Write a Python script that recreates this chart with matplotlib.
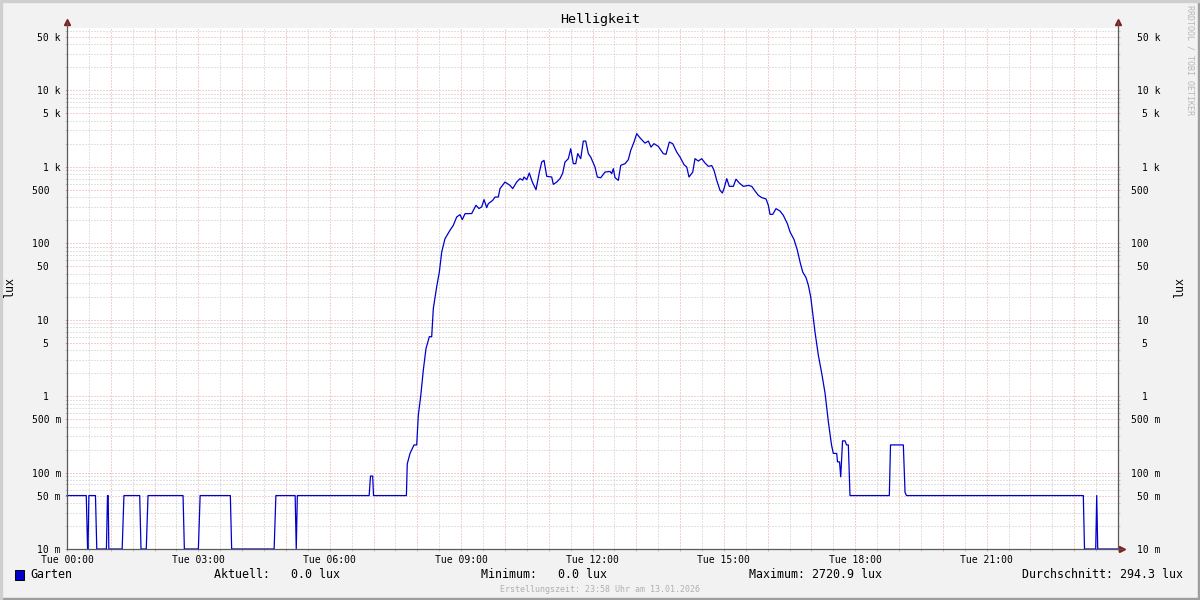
"""Helligkeit (Garten) - rrdtool style day graph, log scale."""

import numpy as np
import matplotlib.pyplot as plt
from matplotlib.lines import Line2D
from matplotlib.patches import Rectangle
from matplotlib.ticker import FixedLocator, FixedFormatter, MultipleLocator, NullFormatter

plt.rcParams['font.family'] = ['DejaVu Sans Mono', 'DejaVu Sans']
plt.rcParams['lines.scale_dashes'] = False

# ── data: hour of day (Tue) / brightness in lux ─────────────────────────────
hours = [0.00, 0.44, 0.47, 0.48, 0.50, 0.65, 0.68, 0.90, 0.925, 0.94, 0.955,
         1.26, 1.30, 1.66, 1.69, 1.81, 1.85, 2.65, 2.68, 3.00, 3.04, 3.73,
         3.76, 4.73, 4.77, 5.21, 5.235, 5.26, 6.90, 6.93, 6.98, 7.00, 7.75,
         7.77, 7.833, 7.924, 7.986, 8.022, 8.077, 8.137, 8.198, 8.274, 8.328,
         8.365, 8.442, 8.502, 8.557, 8.632, 8.746, 8.822, 8.899, 8.975, 9.027,
         9.089, 9.242, 9.279, 9.340, 9.409, 9.470, 9.523, 9.584, 9.621, 9.721,
         9.774, 9.849, 9.888, 10.002, 10.116, 10.178, 10.269, 10.345, 10.407,
         10.436, 10.498, 10.557, 10.626, 10.710, 10.786, 10.840, 10.893,
         10.955, 11.069, 11.105, 11.183, 11.258, 11.320, 11.372, 11.448,
         11.503, 11.562, 11.617, 11.663, 11.731, 11.790, 11.845, 11.905,
         11.959, 12.057, 12.110, 12.188, 12.286, 12.400, 12.439, 12.476,
         12.514, 12.590, 12.645, 12.743, 12.818, 12.873, 12.948, 13.010,
         13.069, 13.124, 13.199, 13.275, 13.336, 13.405, 13.503, 13.617,
         13.679, 13.754, 13.832, 13.923, 13.999, 14.090, 14.152, 14.204,
         14.289, 14.341, 14.417, 14.494, 14.570, 14.645, 14.723, 14.775,
         14.837, 14.912, 14.965, 15.003, 15.065, 15.124, 15.216, 15.277,
         15.353, 15.444, 15.558, 15.636, 15.711, 15.787, 15.864, 15.963,
         16.015, 16.054, 16.116, 16.191, 16.282, 16.358, 16.449, 16.511,
         16.602, 16.678, 16.739, 16.801, 16.876, 16.929, 16.983, 17.029,
         17.081, 17.157, 17.235, 17.310, 17.386, 17.458, 17.499, 17.577,
         17.595, 17.641, 17.668, 17.710, 17.767, 17.801, 17.842, 17.880,
         18.778, 18.805, 19.098, 19.137, 19.171, 23.208, 23.235, 23.491,
         23.514, 23.537, 24.00]
lux = [0.05, 0.05, 0, 0, 0.05, 0.05, 0, 0, 0.05, 0.05, 0,
       0, 0.05, 0.05, 0, 0, 0.05, 0.05, 0, 0, 0.05, 0.05,
       0, 0, 0.05, 0.05, 0, 0.05, 0.05, 0.09, 0.09, 0.05, 0.05,
       0.13, 0.178, 0.23, 0.23, 0.56, 1.0, 2.2, 4.2, 6.0, 6.0,
       14, 27, 42, 77, 115, 148, 172, 221, 237, 204,
       244, 245, 270, 314, 285, 300, 373, 293, 330, 365,
       403, 403, 519, 633, 573, 519, 633, 701, 670,
       736, 680, 830, 633, 503, 850, 1156, 1217,
       752, 736, 590, 633, 701, 830, 1156, 1280,
       1729, 1101, 1101, 1489, 1280, 2174, 2174, 1489,
       1344, 995, 736, 720, 855, 870, 815, 947,
       722, 666, 1047, 1101, 1242, 1643, 2110, 2720.9,
       2460, 2268, 2046, 2174, 1815, 2011, 1853, 1489,
       1460, 2110, 2011, 1562, 1344, 1069, 995, 736,
       855, 1280, 1191, 1280, 1122, 1016, 1040, 900,
       666, 493, 455, 519, 701, 556, 556, 690,
       614, 556, 572, 556, 483, 424, 396, 380,
       314, 239, 239, 284, 264, 232, 181, 141,
       112, 81, 57, 42, 35.6, 28.2, 19.9, 12.1,
       6.9, 3.43, 1.98, 1.1, 0.46, 0.23, 0.178, 0.178,
       0.138, 0.138, 0.088, 0.26, 0.26, 0.23, 0.23, 0.05,
       0.05, 0.23, 0.23, 0.055, 0.05, 0.05, 0, 0,
       0.05, 0, 0]
average_lux = 294.3  # as printed by rrdtool

y_ticks = [0.01, 0.05, 0.1, 0.5, 1, 5, 10, 50, 100, 500, 1e3, 5e3, 1e4, 5e4]
y_labels = ['10 m', '50 m', '100 m', '500 m', '1  ', '5  ', '10  ', '50  ',
            '100  ', '500  ', '1 k', '5 k', '10 k', '50 k']
x_labels = ['Tue 00:00', '', '', 'Tue 03:00', '', '', 'Tue 06:00', '', '',
            'Tue 09:00', '', '', 'Tue 12:00', '', '', 'Tue 15:00', '', '',
            'Tue 18:00', '', '', 'Tue 21:00', '', '', '']

# ── colours (rrdtool look) ──────────────────────────────────────────────────
BACK = '#f2f2f2'
GRID = '#c4c4c4'
MGRID = '#e6a3a3'
ARROW = '#801f1f'
AXIS = '#5a5a5a'
LINE = '#0000cc'
YMIN, YMAX = 0.01, 65600
DOTS = (0, (0.72, 1.44))  # 1 px on, 2 px off

W, H = 1200, 600
fig = plt.figure(figsize=(12, 6), dpi=100, facecolor=BACK)
L, R, T, B = 67, 1118, 28, 549
ax = fig.add_axes([L / W, 1 - B / H, (R - L) / W, (B - T) / H])
ax.set_facecolor('white')

y = np.clip(np.array(lux, dtype=float), YMIN, None)
ax.plot(hours, y, color=LINE, lw=0.9, zorder=5, clip_on=False)

ax.set_yscale('log')
ax.set_ylim(YMIN, YMAX)
ax.set_xlim(0, 24)

minor_y = [m * 10.0 ** e for e in range(-2, 5) for m in (2, 3, 4, 6, 7, 8, 9)]
ax.yaxis.set_major_locator(FixedLocator(y_ticks))
ax.yaxis.set_major_formatter(FixedFormatter(y_labels))
ax.yaxis.set_minor_locator(FixedLocator(minor_y))
ax.yaxis.set_minor_formatter(NullFormatter())
ax.xaxis.set_major_locator(FixedLocator(list(range(25))))
ax.xaxis.set_major_formatter(FixedFormatter(x_labels))
ax.xaxis.set_minor_locator(MultipleLocator(0.5))

ax.grid(True, which='minor', color=GRID, lw=0.72, linestyle=DOTS, zorder=1)
ax.grid(True, which='major', color=MGRID, lw=0.72, linestyle=DOTS, zorder=2)
ax.set_axisbelow(True)

ax.tick_params(which='major', length=1.5, width=0.7, color=MGRID,
               labelsize=7, pad=2.9, direction='out')
ax.tick_params(which='minor', length=1.5, width=0.7, color=GRID, direction='out')
for s in ax.spines.values():
    s.set_visible(False)

# right axis duplicate
ax2 = ax.twinx()
ax2.set_yscale('log')
ax2.set_ylim(YMIN, YMAX)
ax2.yaxis.set_major_locator(FixedLocator(y_ticks))
ax2.yaxis.set_major_formatter(FixedFormatter(y_labels))
ax2.yaxis.set_minor_locator(FixedLocator(minor_y))
ax2.yaxis.set_minor_formatter(NullFormatter())
ax2.tick_params(which='major', length=1.5, width=0.7, color=MGRID,
                labelsize=7, pad=28.8)
ax2.tick_params(which='minor', length=1.5, width=0.7, color=GRID)
for lab in ax2.get_yticklabels():
    lab.set_ha('right')
for s in ax2.spines.values():
    s.set_visible(False)


# axis lines with arrows
def fx(px):
    return px / W


def fy(py):
    return 1 - py / H


for xs, ys in [((L, L), (B, 22)), ((R, R), (B, 22)), ((L, 1122), (B, B))]:
    fig.add_artist(Line2D([fx(v) for v in xs], [fy(v) for v in ys],
                          color=AXIS, lw=0.9, transform=fig.transFigure, zorder=4))
for px, py, m in [(L, 22, '^'), (R, 22, '^'), (1122, B, '>')]:
    fig.add_artist(Line2D([fx(px)], [fy(py)], marker=m, markersize=4.5,
                          color=ARROW, lw=0, transform=fig.transFigure))

# frame shading
fig.add_artist(Rectangle((0, 0), 1, 2 / H, color='#9e9e9e', transform=fig.transFigure))
fig.add_artist(Rectangle((1 - 2 / W, 0), 2 / W, 1, color='#9e9e9e', transform=fig.transFigure))
fig.add_artist(Rectangle((0, 1 - 2 / H), 1, 2 / H, color='#cfcfcf', transform=fig.transFigure))
fig.add_artist(Rectangle((0, 0), 2 / W, 1, color='#cfcfcf', transform=fig.transFigure))

# texts
fig.text(0.5, fy(19), 'Helligkeit', ha='center', va='center', fontsize=9.6)
fig.text(fx(10), fy(288), 'lux', rotation=90, ha='center', va='center', fontsize=8.4)
fig.text(fx(1180), fy(288), 'lux', rotation=90, ha='center', va='center', fontsize=8.4)
fig.text(fx(1190), fy(5), 'RRDTOOL / TOBI OETIKER', rotation=270, ha='center',
         va='top', fontsize=6, color='#b8b8b8')

# legend line
fig.add_artist(Rectangle((fx(15), fy(580)), 9 / W, 10 / H, facecolor=LINE,
                         edgecolor='black', lw=0.7, transform=fig.transFigure))
stats = [('Garten', 30),
         ('Aktuell: %5.1f lux' % lux[-1], 214),
         ('Minimum: %5.1f lux' % min(lux), 481),
         ('Maximum: %5.1f lux' % max(lux), 749)]
for txt, px in stats:
    fig.text(fx(px), fy(575), txt, ha='left', va='center', fontsize=8.4)
fig.text(fx(1183), fy(575), 'Durchschnitt: %5.1f lux' % average_lux,
         ha='right', va='center', fontsize=8.4)
fig.text(0.5, fy(589), 'Erstellungszeit: 23:58 Uhr am 13.01.2026', ha='center',
         va='center', fontsize=6, color='#b0b0b0')

fig.savefig('out.png', dpi=100, facecolor=BACK)
